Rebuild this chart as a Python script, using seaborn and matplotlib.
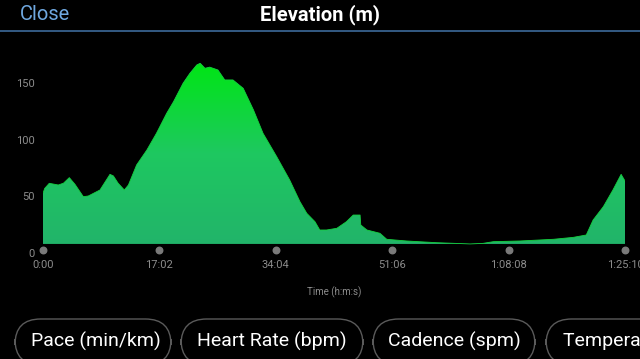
import numpy as np
import seaborn as sns
import matplotlib
matplotlib.use("Agg")
import matplotlib.pyplot as plt
from matplotlib.colors import LinearSegmentedColormap
from matplotlib.patches import FancyBboxPatch

# Dane: czas (minuty) i wysokość (m)
time_min = [0.0, 0.25, 0.92, 2.24, 3.0, 3.85, 4.68, 5.9, 6.63, 8.34, 9.8, 10.3, 11.0,
            11.9, 12.5, 13.7, 15.2, 16.6, 18.1, 19.1, 20.5, 21.5, 22.5, 23.0, 23.7,
            24.4, 25.6, 26.6, 27.8, 29.3, 30.8, 32.2, 34.2, 36.1, 37.6, 38.6, 39.8,
            40.5, 41.5, 43.0, 44.4, 45.4, 46.4, 46.5, 47.4, 49.3, 50.3, 53.2, 57.6,
            62.5, 64.4, 65.9, 69.8, 74.7, 77.6, 79.5, 80.5, 82.0, 83.4, 84.6, 85.17]
elev_m = [52.7, 57.0, 61.5, 60.0, 61.6, 66.5, 60.6, 49.7, 50.3, 55.6, 69.4, 68.0, 61.5,
          55.6, 60.0, 77.7, 90.9, 105.6, 123.3, 133.5, 149.8, 158.6, 165.9, 167.4, 163.0,
          164.0, 161.5, 152.7, 152.7, 145.3, 126.2, 105.6, 85.0, 64.4, 45.3, 35.0, 27.6,
          20.3, 20.3, 21.8, 27.6, 33.5, 33.5, 24.7, 20.3, 17.4, 12.1, 10.6, 9.1,
          8.0, 8.5, 10.0, 10.6, 12.1, 13.8, 15.9, 29.1, 40.9, 55.6, 69.4, 63.5]

x_ticks = [0, 1022, 2044, 3066, 4088, 5110]
x_labels = ["0:00", "17:02", "34:04", "51:06", "1:08:08", "1:25:10"]
y_ticks = [0, 50, 100, 150]
buttons = ["Pace (min/km)", "Heart Rate (bpm)", "Cadence (spm)", "Temperature (°C)"]

t = np.array(time_min) * 60
e = np.array(elev_m)
base = e.min()

sns.set_style("dark", {"axes.facecolor": "black", "figure.facecolor": "black"})
plt.rcParams['font.family'] = ['Roboto', 'DejaVu Sans']

fig = plt.figure(figsize=(6.4, 3.59), dpi=100)
ax = fig.add_axes([43 / 640, (359 - 253) / 359, 582 / 640, 193 / 359])
ax.set_facecolor("black")
ax.set_xlim(0, 5110)
ax.set_ylim(0, 170.3)

# Wypełnienie z gradientem
fill = ax.fill_between(t, e, base, color="none", lw=0)
cmap = LinearSegmentedColormap.from_list("g", ["#22b46a", "#1ec860", "#00e614"])
grad = np.linspace(0, 1, 256).reshape(-1, 1)
img = ax.imshow(grad, cmap=cmap, aspect="auto", origin="lower",
                extent=[0, 5110, base, 168], zorder=2)
img.set_clip_path(fill.get_paths()[0], transform=ax.transData)
sns.lineplot(x=t, y=e, ax=ax, color="#14d040", lw=0.6, zorder=3)

for s in ax.spines.values():
    s.set_visible(False)
ax.grid(False)
ax.set_xticks(x_ticks)
ax.set_xticklabels(x_labels)
ax.set_yticks(y_ticks)
ax.tick_params(colors="#8c8c8c", labelsize=8, length=0)
ax.tick_params(axis="x", pad=5)
ax.tick_params(axis="y", pad=6)
ax.scatter(x_ticks, [2.6] * len(x_ticks), s=22, color="#7a7a7a", zorder=4, clip_on=False)
ax.set_xlabel("Time (h:m:s)", color="#8c8c8c", fontsize=7, labelpad=12)
ax.set_ylabel("")

# Nagłówek
fig.text(0.5, 1 - 15 / 359, "Elevation (m)", color="white", fontsize=14.5,
         fontweight="bold", ha="center", va="center")
fig.text(20 / 640, 1 - 15 / 359, "Close", color="#6fa8e0", fontsize=14.5,
         ha="left", va="center")
fig.add_artist(plt.Line2D([0, 1], [1 - 31 / 359, 1 - 31 / 359], color="#3d6a9a", lw=1.2))

# Przyciski
bx = [(15, 171, 31), (181, 363, 197), (373, 535, 388), (546, 720, 563)]
for (x0, x1, tx), label in zip(bx, buttons):
    p = FancyBboxPatch((x0 / 640, 1 - 365 / 359), (x1 - x0) / 640, 46 / 359,
                       boxstyle="round,pad=0,rounding_size=0.04",
                       transform=fig.transFigure, fc="black", ec="#5a5a5a", lw=1,
                       mutation_aspect=640 / 359)
    fig.add_artist(p)
    fig.text(tx / 640, 1 - 341 / 359, label, color="white", fontsize=14,
             ha="left", va="center")

fig.savefig("out.png", dpi=100, facecolor="black")
